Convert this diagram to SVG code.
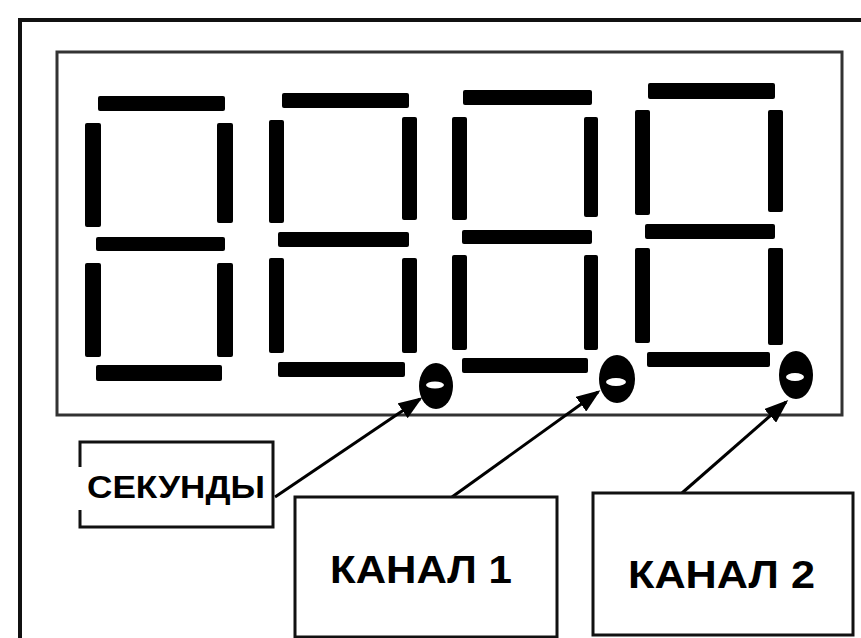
<svg xmlns="http://www.w3.org/2000/svg" width="861" height="638" viewBox="0 0 861 638">
<style>
.seg{fill:#000}
.frame{fill:none;stroke:#111;stroke-width:4}
.disp{fill:none;stroke:#333;stroke-width:3}
.box{fill:#fff;stroke:#111;stroke-width:3}
.lbl{font-family:"Liberation Sans",Arial,sans-serif;font-weight:bold;fill:#000}
.conn{stroke:#000;stroke-width:3;fill:none}
</style>
<defs>
<marker id="ah" markerWidth="8" markerHeight="6" refX="7" refY="3" orient="auto" markerUnits="strokeWidth">
<path d="M0,0 L8,3 L0,6 Z" fill="#000"/>
</marker>
</defs>
<rect width="861" height="638" fill="#fff"/>
<path class="frame" d="M20,645 V20 H870"/>
<g id="display">
<rect class="disp" x="57" y="52" width="785" height="363"/>
<g id="digit1">
<rect class="seg" x="98" y="96" width="127" height="15" rx="2"/>
<rect class="seg" x="85" y="123" width="16" height="104" rx="2"/>
<rect class="seg" x="217" y="123" width="16" height="100" rx="2"/>
<rect class="seg" x="96" y="237" width="129" height="14" rx="2"/>
<rect class="seg" x="85" y="263" width="16" height="94" rx="2"/>
<rect class="seg" x="217" y="263" width="16" height="94" rx="2"/>
<rect class="seg" x="96" y="365" width="126" height="16" rx="2"/>
</g>
<g id="digit2">
<rect class="seg" x="282" y="93" width="127" height="15" rx="2"/>
<rect class="seg" x="269" y="120" width="15" height="103" rx="2"/>
<rect class="seg" x="402" y="117" width="15" height="103" rx="2"/>
<rect class="seg" x="278" y="232" width="131" height="15" rx="2"/>
<rect class="seg" x="269" y="258" width="15" height="95" rx="2"/>
<rect class="seg" x="402" y="258" width="15" height="95" rx="2"/>
<rect class="seg" x="278" y="362" width="127" height="15" rx="2"/>
</g>
<g id="digit3">
<rect class="seg" x="463" y="90" width="129" height="15" rx="2"/>
<rect class="seg" x="452" y="117" width="15" height="103" rx="2"/>
<rect class="seg" x="584" y="117" width="14" height="100" rx="2"/>
<rect class="seg" x="462" y="230" width="130" height="14" rx="2"/>
<rect class="seg" x="452" y="255" width="15" height="95" rx="2"/>
<rect class="seg" x="584" y="255" width="14" height="95" rx="2"/>
<rect class="seg" x="462" y="358" width="126" height="15" rx="2"/>
</g>
<g id="digit4">
<rect class="seg" x="648" y="83" width="127" height="16" rx="2"/>
<rect class="seg" x="635" y="110" width="15" height="105" rx="2"/>
<rect class="seg" x="768" y="110" width="15" height="102" rx="2"/>
<rect class="seg" x="645" y="224" width="130" height="15" rx="2"/>
<rect class="seg" x="635" y="248" width="15" height="95" rx="2"/>
<rect class="seg" x="768" y="248" width="15" height="97" rx="2"/>
<rect class="seg" x="647" y="352" width="123" height="15" rx="2"/>
</g>
<g id="dot1">
<ellipse cx="436" cy="386" rx="17" ry="23" fill="#000"/>
<ellipse cx="435" cy="385" rx="9" ry="3.5" fill="#fff"/>
</g>
<g id="dot2">
<ellipse cx="617" cy="379" rx="18" ry="24" fill="#000"/>
<ellipse cx="616" cy="382" rx="10" ry="4" fill="#fff"/>
</g>
<g id="dot3">
<ellipse cx="796" cy="375" rx="17" ry="24" fill="#000"/>
<ellipse cx="795" cy="377" rx="9" ry="4" fill="#fff"/>
</g>
</g>
<g id="connectors">
<line class="conn" x1="275" y1="497" x2="420" y2="399" marker-end="url(#ah)"/>
<line class="conn" x1="452" y1="497" x2="598" y2="392" marker-end="url(#ah)"/>
<line class="conn" x1="682" y1="493" x2="786" y2="402" marker-end="url(#ah)"/>
</g>
<g id="seconds">
<path class="box" d="M80,467 V442 H273 V527 H80 V510"/>
<text class="lbl" x="87" y="498" font-size="32" textLength="178" lengthAdjust="spacingAndGlyphs">СЕКУНДЫ</text>
</g>
<g id="channel1">
<rect class="box" x="295" y="497" width="262" height="140"/>
<text class="lbl" x="330" y="583" font-size="38" textLength="182" lengthAdjust="spacingAndGlyphs">КАНАЛ 1</text>
</g>
<g id="channel2">
<rect class="box" x="593" y="493" width="260" height="142"/>
<text class="lbl" x="628" y="588" font-size="38" textLength="187" lengthAdjust="spacingAndGlyphs">КАНАЛ 2</text>
</g>
</svg>
